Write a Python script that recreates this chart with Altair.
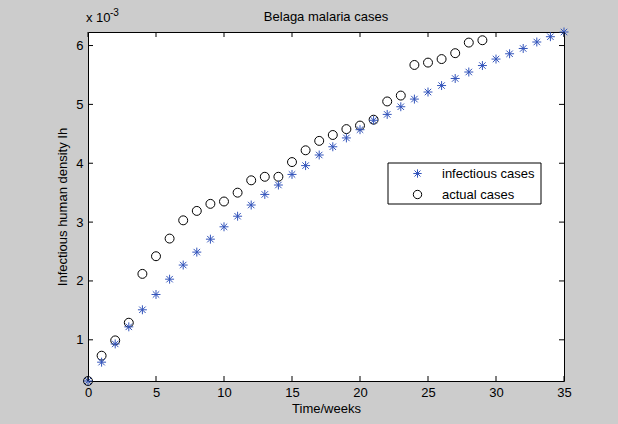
import altair as alt
import pandas as pd

# ---- data (values in units of 1e-3) ----
weeks_model = list(range(36))
infectious = [0.30, 0.62, 0.93, 1.22, 1.51, 1.77, 2.03, 2.27, 2.49, 2.71,
              2.92, 3.10, 3.29, 3.47, 3.63, 3.81, 3.96, 4.14, 4.28, 4.43,
              4.57, 4.73, 4.83, 4.96, 5.09, 5.21, 5.32, 5.44, 5.55, 5.66,
              5.77, 5.86, 5.95, 6.06, 6.15, 6.23]
weeks_actual = list(range(30))
actual = [0.30, 0.73, 0.99, 1.29, 2.12, 2.42, 2.72, 3.03, 3.19, 3.31,
          3.35, 3.50, 3.71, 3.77, 3.77, 4.02, 4.22, 4.38, 4.48, 4.58,
          4.64, 4.74, 5.05, 5.15, 5.67, 5.71, 5.77, 5.87, 6.05, 6.09]
series_names = ["infectious cases", "actual cases"]
x_ticks = [0, 5, 10, 15, 20, 25, 30, 35]
y_ticks = [1, 2, 3, 4, 5, 6]
title_text = "Belaga malaria cases"

df = pd.concat([
    pd.DataFrame({"week": weeks_actual, "value": actual, "series": series_names[1], "o": 0}),
    pd.DataFrame({"week": weeks_model, "value": infectious, "series": series_names[0], "o": 1}),
], ignore_index=True)

W, H = 476, 349
FONT = "Liberation Sans"
STAR = "M-1,0L1,0M0,-1L0,1M-0.72,-0.72L0.72,0.72M-0.72,0.72L0.72,-0.72"
BLUE = "#3354bb"

all_vals = infectious + actual
xs = alt.Scale(domain=[min(x_ticks), max(x_ticks)], nice=False, zero=False)
ys = alt.Scale(domain=[min(all_vals), max(all_vals)], nice=False, zero=False)

leg = alt.Legend(orient="none", legendX=323, legendY=135, title=None,
                 padding=0, labelFont=FONT, labelFontSize=13, labelColor="black",
                 labelOffset=18, rowPadding=7, symbolSize=70, symbolStrokeWidth=1,
                 symbolType="circle")

points = alt.Chart(df).mark_point(filled=False, size=80, strokeWidth=1, clip=False, opacity=1).encode(
    x=alt.X("week:Q", scale=xs,
            axis=alt.Axis(values=x_ticks, title="Time/weeks", titlePadding=3, labelPadding=5,
                          labelFlush=False, format="d")),
    y=alt.Y("value:Q", scale=ys,
            axis=alt.Axis(values=y_ticks, title="Infectious human density Ih", titlePadding=6,
                          labelPadding=5, labelFlush=False, format="d")),
    shape=alt.Shape("series:N", scale=alt.Scale(domain=series_names, range=[STAR, "circle"]), legend=leg),
    color=alt.Color("series:N", scale=alt.Scale(domain=series_names, range=[BLUE, "black"]), legend=leg),
    order=alt.Order("o:Q"),
)

xt = pd.DataFrame({"week": x_ticks})
yt = pd.DataFrame({"value": y_ticks})
tick_b = alt.Chart(xt).mark_rule(color="black", strokeWidth=1).encode(
    x=alt.X("week:Q", scale=xs), y=alt.value(H), y2=alt.value(H - 5))
tick_t = alt.Chart(xt).mark_rule(color="black", strokeWidth=1).encode(
    x=alt.X("week:Q", scale=xs), y=alt.value(0), y2=alt.value(5))
tick_l = alt.Chart(yt).mark_rule(color="black", strokeWidth=1).encode(
    y=alt.Y("value:Q", scale=ys), x=alt.value(0), x2=alt.value(5))
tick_r = alt.Chart(yt).mark_rule(color="black", strokeWidth=1).encode(
    y=alt.Y("value:Q", scale=ys), x=alt.value(W), x2=alt.value(W - 5))

one = pd.DataFrame({"a": [0]})
legend_box = alt.Chart(one).mark_rect(fill="white", stroke="black", strokeWidth=1).encode(
    x=alt.value(300), x2=alt.value(453), y=alt.value(131), y2=alt.value(172))

exp_base = alt.Chart(one).mark_text(font=FONT, fontSize=13, color="black", align="left",
                                    baseline="alphabetic").encode(
    x=alt.value(-2), y=alt.value(-10), text=alt.value("x 10"))
exp_sup = alt.Chart(one).mark_text(font=FONT, fontSize=10, color="black", align="left",
                                   baseline="alphabetic").encode(
    x=alt.value(22), y=alt.value(-16), text=alt.value("-3"))
title_mark = alt.Chart(one).mark_text(font=FONT, fontSize=13, color="black", align="center",
                                      baseline="alphabetic").encode(
    x=alt.value(W / 2), y=alt.value(-11), text=alt.value(title_text))

chart = alt.layer(legend_box, points, tick_b, tick_t, tick_l, tick_r,
                  exp_base, exp_sup, title_mark).properties(
    width=W, height=H,
    autosize=alt.AutoSizeParams(type="none"),
    padding={"left": 88, "top": 32, "right": 54, "bottom": 43},
    background="#cccccc",
).configure_view(
    fill="white", stroke="black", strokeWidth=1
).configure_axis(
    labelFont=FONT, labelFontSize=13, labelColor="black", tickSize=0, domain=False,
    grid=False, titleFont=FONT, titleFontSize=13, titleFontWeight="normal", titleColor="black"
)

chart.save("out.html", embed_options={"renderer": "svg", "actions": False})
